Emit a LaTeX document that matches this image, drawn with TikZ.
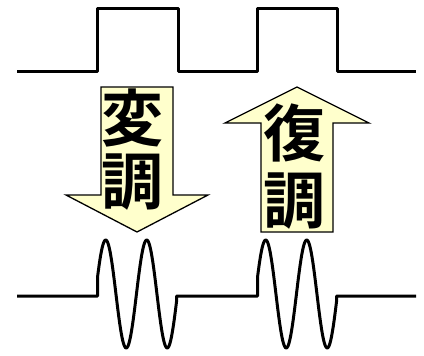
\documentclass[tikz,border=0pt]{standalone}
\usepackage{fontspec}
\newfontfamily\jpfont{Noto Sans CJK JP Bold}
\definecolor{arrowfill}{HTML}{FFFFCC}
\tikzset{
  signal/.style={line width=3pt, line join=round, black},
  bigarrow/.style={draw=black, line width=1.3pt, fill=arrowfill, line join=miter},
  kanji/.style={font=\jpfont\fontsize{62}{62}\selectfont, inner sep=0pt, text=black}
}
\begin{document}
\begin{tikzpicture}[x=1pt,y=-1pt]
\useasboundingbox (0,0) rectangle (424,356);
% top square wave
\draw[signal] (17,71) -- (97,71) -- (97,8) -- (178,8) -- (178,71) -- (257,71) -- (257,8) -- (337,8) -- (337,71) -- (416,71);
% bottom modulated wave
\draw[signal] (17,296) -- (97.5,296)
  -- plot[domain=97.5:176.7, samples=120] (\x, {294-54*cos(8.7805*(\x-105.7))})
  -- (176.7,296) -- (257.5,296)
  -- plot[domain=257.5:336.7, samples=120] (\x, {294-54*cos(8.7805*(\x-265.7))})
  -- (336.7,296) -- (416,296);
% down arrow
\draw[bigarrow] (101,87) -- (173,87) -- (173,195) -- (208,195) -- (137,232) -- (66,195) -- (101,195) -- cycle;
% up arrow
\draw[bigarrow] (297,87) -- (369,123) -- (333,123) -- (333,232) -- (261,232) -- (261,123) -- (225,123) -- cycle;
% texts
\node[kanji] (hen) at (132,118) {変};
\node[kanji] (cho1) at (132,182) {調};
\node[kanji] (fuku) at (294,133) {復};
\node[kanji] (cho2) at (294,201) {調};
\end{tikzpicture}
\end{document}
